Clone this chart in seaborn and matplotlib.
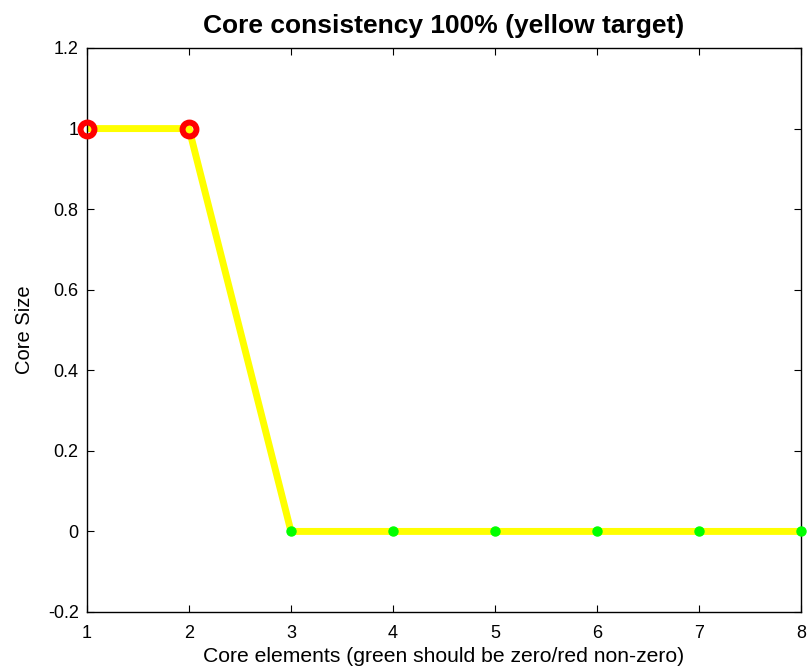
import matplotlib
matplotlib.use("Agg")
import matplotlib.pyplot as plt
import seaborn as sns
import numpy as np
import pandas as pd

sns.set_style("ticks")
plt.rcParams['font.family'] = ['Liberation Sans', 'DejaVu Sans']
plt.rcParams['text.color'] = 'black'
plt.rcParams['axes.labelcolor'] = 'black'

elements = [1, 2, 3, 4, 5, 6, 7, 8]
target = [1, 1, 0, 0, 0, 0, 0, 0]
core = [1, 1, 0, 0, 0, 0, 0, 0]
nonzero_idx = [0, 1]
zero_idx = [2, 3, 4, 5, 6, 7]
yticks = [-0.2, 0, 0.2, 0.4, 0.6, 0.8, 1, 1.2]
ytick_labels = ["-0.2", "0", "0.2", "0.4", "0.6", "0.8", "1", "1.2"]

df = pd.DataFrame({"x": elements, "target": target, "core": core})

fig = plt.figure(figsize=(8.08, 6.70), dpi=100)
ax = fig.add_axes([87/808, 1-612/670, 714/808, 564/670])

sns.lineplot(data=df, x="x", y="target", color="#ffff00", linewidth=5, ax=ax, zorder=2)
nz = df.iloc[nonzero_idx]
zz = df.iloc[zero_idx]
ax.plot(nz["x"], nz["core"], linestyle="none", marker="o", markersize=10,
        markerfacecolor="none", markeredgecolor="#ff0000", markeredgewidth=4.3,
        zorder=4, clip_on=False)
ax.plot(zz["x"], zz["core"], linestyle="none", marker="o", markersize=6.5,
        markerfacecolor="#00ff00", markeredgecolor="#00ff00", zorder=4, clip_on=False)

ax.set_xlim(1, 8)
ax.set_ylim(-0.2, 1.2)
ax.set_xticks(elements)
ax.set_xticklabels([str(e) for e in elements])
ax.set_yticks(yticks)
ax.set_yticklabels(ytick_labels)
ax.tick_params(direction="in", length=5, width=0.8, top=True, right=True,
               labelsize=13, colors="black")
ax.tick_params(axis="x", pad=9)
ax.tick_params(axis="y", pad=6)
for s in ax.spines.values():
    s.set_visible(True)
    s.set_linewidth(1.0)
    s.set_color("black")

ax.set_xlabel("Core elements (green should be zero/red non-zero)", fontsize=15.2,
              labelpad=4, color="black")
ax.set_ylabel("Core Size", fontsize=14.5, labelpad=10, color="black")
ax.set_title("Core consistency 100% (yellow target)", fontsize=19, fontweight="bold",
             pad=11, color="black")

fig.savefig("out.png", dpi=100)
